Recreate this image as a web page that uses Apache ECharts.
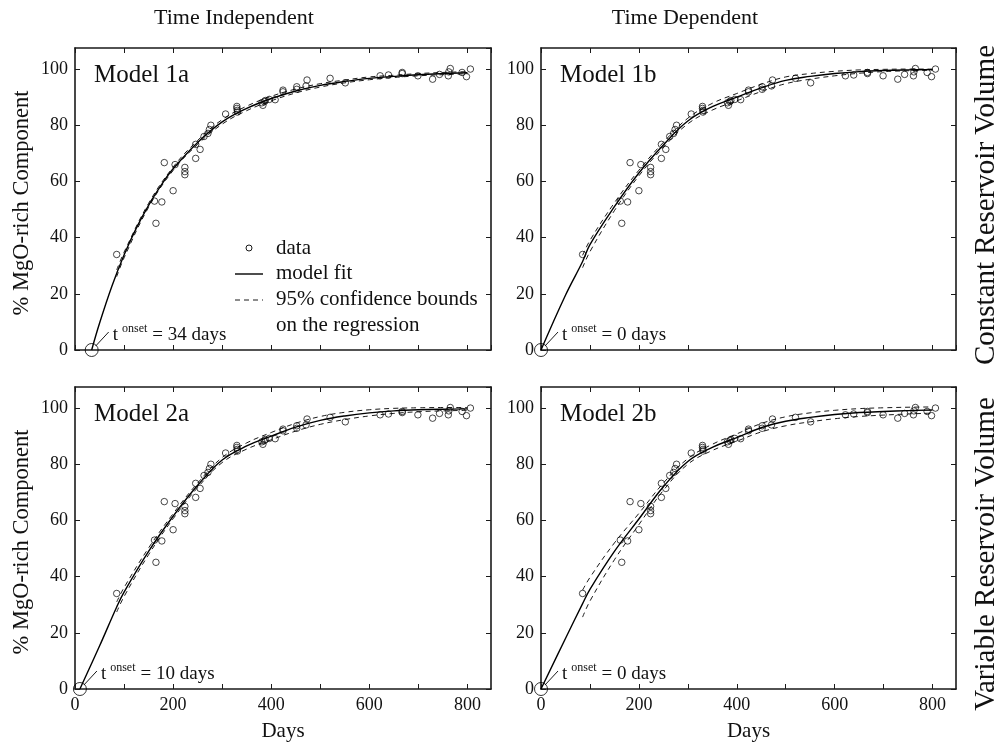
<!DOCTYPE html>
<html><head><meta charset="utf-8">
<script src="https://cdn.jsdelivr.net/npm/echarts@6/dist/echarts.min.js"></script>
<style>html,body{margin:0;padding:0;background:#fff}#c{width:1008px;height:743px}</style>
</head><body><div id="c"></div>
<script>
// ---- data ----
const dataDays = [85,162,165,177,182,200,204,224,224,224,246,246,255,263,271,274,277,307,330,330,331,331,381,383,386,388,396,408,424,424,452,452,471,473,520,551,622,639,667,667,699,729,743,761,762,765,789,798,806];
const dataPct  = [34.0,53.0,45.1,52.7,66.7,56.7,66.0,65.0,63.5,62.4,68.2,73.2,71.4,76.0,77.1,78.5,80.0,84.0,86.7,86.0,85.3,84.7,88.0,87.1,88.4,88.8,89.2,89.1,92.5,91.9,93.7,92.8,94.0,96.1,96.7,95.1,97.6,97.9,98.8,98.4,97.6,96.4,98.1,97.6,99.0,100.2,98.8,97.3,100.0];

const onsetDays = [34, 0, 10, 0];
const modelNames = ['Model 1a', 'Model 1b', 'Model 2a', 'Model 2b'];
const colTitles = ['Time Independent', 'Time Dependent'];
const rowTitles = ['Constant Reservoir Volume', 'Variable Reservoir Volume'];
const yName = '% MgO-rich Component';
const xName = 'Days';
const legendLabels = ['data', 'model fit', '95% confidence bounds', 'on the regression'];

const fitDays1a = [34,50,75,100,125,150,175,200,250,300,350,400,450,500,550,600,650,700,750,800];
const fitPct1a  = [0,9.5,22.6,33.8,43.4,51.5,58.5,64.5,73.9,81.2,86.0,89.5,92.2,94.2,95.6,96.7,97.4,98.0,98.4,98.7];
const fitDays1b = [0,50,85,100,150,200,250,300,350,400,450,500,550,600,650,700,750,800];
const fitPct1b  = [0,19.5,31.5,37.5,51,63,73,81.5,86.6,90,93.3,96.0,97.4,98.4,99.1,99.5,99.7,99.8];
const fitDays2a = [10,50,85,100,150,200,250,300,350,400,450,500,550,600,650,700,750,800];
const fitPct2a  = [0,15.3,29.2,34.5,49,61.5,72.5,81.5,86.5,90,93.2,95.6,97.2,98.3,99,99.4,99.6,99.7];
const fitDays2b = [0,50,85,100,150,200,250,300,350,400,450,500,550,600,650,700,750,800];
const fitPct2b  = [0,18,30.4,35.5,49,60.5,72,81,86,89.5,93,95.3,96.7,97.7,98.4,98.8,99.1,99.3];

const boundDays = [85,100,150,200,250,300,350,400,450,500,550,600,650,700,750,800];
const upper1a = [28.5,34.8,52.2,65.1,74.6,82.0,86.8,90.3,92.9,94.8,96.1,97.2,97.8,98.4,98.8,99.1];
const lower1a = [26.1,32.8,50.8,63.9,73.2,80.4,85.2,88.7,91.5,93.6,95.1,96.2,97.0,97.6,98.0,98.3];
const upper1b = [33.7,39.0,52.4,64.0,73.9,82.5,87.8,91.3,94.6,97.2,98.4,99.2,99.7,99.9,100.0,100.0];
const lower1b = [29.3,35.0,49.6,62.0,72.1,80.5,85.4,88.7,92.0,94.8,96.4,97.6,98.5,99.1,99.4,99.6];
const upper2a = [31.0,36.1,50.2,62.4,73.3,82.4,87.6,91.3,94.6,97.0,98.5,99.4,99.9,100.1,100.2,100.2];
const lower2a = [27.4,32.9,47.8,60.6,71.7,80.6,85.4,88.7,91.8,94.2,95.9,97.2,98.1,98.7,99.0,99.2];
const upper2b = [35.2,39.7,52.0,62.5,73.3,82.0,87.1,90.8,94.5,96.9,98.3,99.2,99.8,100.1,100.3,100.4];
const lower2b = [25.6,31.3,46.0,58.5,70.7,80.0,84.9,88.2,91.5,93.7,95.1,96.2,97.0,97.5,97.9,98.2];

// ---- chart ----
const SERIF = '"Liberation Serif", "Times New Roman", serif';
const INK = '#111';
const chart = echarts.init(document.getElementById('c'), null, {renderer: 'canvas'});

const grids = [
  {left: 75,  top: 48,  width: 416, height: 302},
  {left: 541, top: 48,  width: 415, height: 302},
  {left: 75,  top: 387, width: 416, height: 302},
  {left: 541, top: 387, width: 415, height: 302}
];
const models = [
  {fd: fitDays1a, fp: fitPct1a, up: upper1a, lo: lower1a},
  {fd: fitDays1b, fp: fitPct1b, up: upper1b, lo: lower1b},
  {fd: fitDays2a, fp: fitPct2a, up: upper2a, lo: lower2a},
  {fd: fitDays2b, fp: fitPct2b, up: upper2b, lo: lower2b}
];
const zip = (a, b) => a.map((v, i) => [v, b[i]]);

const axisLine = {show: true, onZero: false, lineStyle: {color: '#1a1a1a', width: 1.6}};
const axisTick = {show: true, inside: true, length: 5, lineStyle: {color: '#1a1a1a', width: 1}};
function xAx(gi, pos, showLabels) {
  return {type: 'value', gridIndex: gi, position: pos, min: 0, max: 848, interval: 100,
    axisLine, axisTick, splitLine: {show: false},
    axisLabel: {show: showLabels, margin: 7, fontFamily: SERIF, fontSize: 18, color: INK,
      showMaxLabel: false, formatter: v => (v % 200 === 0 ? String(v) : '')}};
}
function yAx(gi, pos, showLabels) {
  return {type: 'value', gridIndex: gi, position: pos, min: 0, max: 107.5, interval: 20,
    axisLine, axisTick, splitLine: {show: false},
    axisLabel: {show: showLabels, margin: 7, fontFamily: SERIF, fontSize: 18, color: INK,
      showMaxLabel: false, formatter: v => (v % 20 === 0 ? String(v) : '')}};
}
const xAxis = [], yAxis = [], series = [];
grids.forEach((g, i) => {
  xAxis.push(xAx(i, 'bottom', i >= 2), xAx(i, 'top', false));
  yAxis.push(yAx(i, 'left', true), yAx(i, 'right', false));
  const m = models[i];
  const ax = {xAxisIndex: 2 * i, yAxisIndex: 2 * i};
  series.push(Object.assign({type: 'scatter', data: zip(dataDays, dataPct), symbol: 'circle', symbolSize: 6.5,
    itemStyle: {color: 'rgba(255,255,255,0)', borderColor: '#000', borderWidth: 0.9}, z: 3}, ax));
  series.push(Object.assign({type: 'line', data: zip(m.fd, m.fp), smooth: 0.4, symbol: 'none',
    lineStyle: {color: '#000', width: 1.4}, z: 4}, ax));
  [m.up, m.lo].forEach(b => series.push(Object.assign({type: 'line', data: zip(boundDays, b), smooth: 0.4,
    symbol: 'none', lineStyle: {color: '#000', width: 0.9, type: [5, 4]}, z: 4}, ax)));
  series.push(Object.assign({type: 'scatter', data: [[onsetDays[i], 0]], symbol: 'circle', symbolSize: 13, clip: false,
    itemStyle: {color: 'rgba(255,255,255,0)', borderColor: '#000', borderWidth: 1}, z: 6}, ax));
});

chart.setOption({
  animation: false, backgroundColor: '#fff',
  grid: grids, xAxis, yAxis, series
});

// ---- text annotations placed from the library's own coordinate conversion ----
const graphic = [];
const txt = (x, y, text, size, extra) => Object.assign({type: 'text', x, y, silent: true,
  style: Object.assign({text, fontFamily: SERIF, fontSize: size, fill: INK, align: 'left', verticalAlign: 'middle'}, extra || {})});

grids.forEach((g, i) => {
  graphic.push(txt(g.left + 19, g.top + 27, modelNames[i], 25));
  const p = chart.convertToPixel({xAxisIndex: 2 * i, yAxisIndex: 2 * i}, [onsetDays[i], 0]);
  graphic.push({type: 'line', silent: true, shape: {x1: p[0] + 4, y1: p[1] - 4, x2: p[0] + 17, y2: p[1] - 18},
    style: {stroke: '#000', lineWidth: 0.9}});
  graphic.push({type: 'text', x: p[0] + 21, y: p[1] - 16, silent: true, style: {
    text: '{a|t}{s|onset}{a|= ' + onsetDays[i] + ' days}', verticalAlign: 'middle', align: 'left',
    rich: {
      a: {fontFamily: SERIF, fontSize: 19, fill: INK, verticalAlign: 'bottom', lineHeight: 22},
      s: {fontFamily: SERIF, fontSize: 12, fill: INK, verticalAlign: 'top', lineHeight: 22, padding: [0, 5, 0, 4]}
    }}});
});

// column titles, row titles, axis names
const titleCenters = [234, 685];
const rowTitleCenters = [205, 554];
[0, 1].forEach(c => {
  graphic.push(txt(titleCenters[c], 18, colTitles[c], 22, {align: 'center'}));
  const gb = grids[2 + c];
  graphic.push(txt(gb.left + gb.width / 2, 731, xName, 21, {align: 'center'}));
});
[0, 1].forEach(r => {
  const g = grids[2 * r];
  graphic.push(Object.assign(txt(22, g.top + g.height / 2 + 4, yName, 22.5, {align: 'center'}), {rotation: Math.PI / 2}));
  graphic.push(Object.assign(txt(986, rowTitleCenters[r], rowTitles[r], 29, {align: 'center'}), {rotation: Math.PI / 2}));
});

// legend in first panel
const lg = grids[0];
const lx = lg.left + 160, ly = lg.top + 200;
graphic.push({type: 'circle', silent: true, shape: {cx: lx + 14, cy: ly, r: 3}, style: {fill: 'none', stroke: '#000', lineWidth: 0.9}});
graphic.push({type: 'line', silent: true, shape: {x1: lx, y1: ly + 26, x2: lx + 28, y2: ly + 26}, style: {stroke: '#000', lineWidth: 1.4}});
graphic.push({type: 'line', silent: true, shape: {x1: lx, y1: ly + 52, x2: lx + 28, y2: ly + 52}, style: {stroke: '#000', lineWidth: 0.9, lineDash: [5, 4]}});
legendLabels.forEach((t, k) => graphic.push(txt(lx + 41, ly + k * 25.7, t, 21)));

chart.setOption({graphic});
</script></body></html>
